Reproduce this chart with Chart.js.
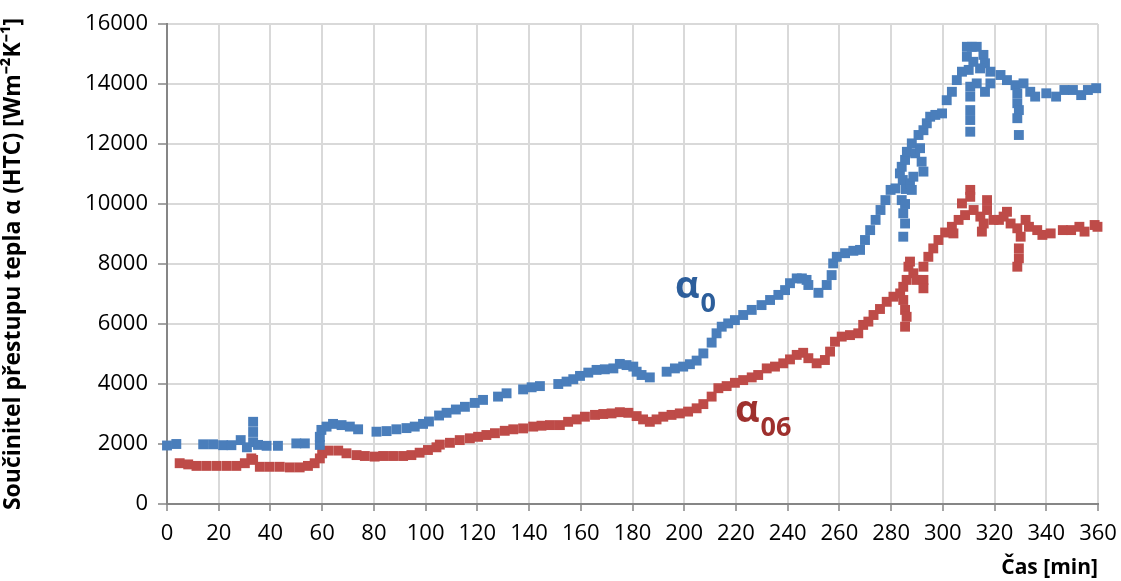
<!DOCTYPE html>
<html lang="cs">
<head>
  <meta charset="UTF-8">
  <title>Součinitel přestupu tepla</title>
  <script src="https://cdn.jsdelivr.net/npm/chart.js"></script>
  <style>
    html, body { margin: 0; padding: 0; background: #fff; }
    #wrap { width: 1121px; height: 581px; }
  </style>
</head>
<body>
  <div id="wrap"><canvas id="htcChart"></canvas></div>

  <script>
    // time [min] and HTC values
    const alpha0Time = [
      0, 3.6, 14, 17.8, 21.7, 24.9, 28.5, 30.9, 33.3, 33.3, 33.3, 35.2, 38.5, 42.9,
      50, 53.3, 59.1, 59.1, 59.7, 61.7, 64.2, 67.5, 70.7, 73.9,
      81, 84.9, 88.7, 92.6, 95.8, 99, 101.3, 105.2, 108.1, 111.7, 115.2, 119, 122.2,
      128, 131.3, 137.7, 141, 144.2, 151.3, 154.5, 157.1, 159.7, 162.9, 166.1, 169.3,
      172.6, 175.1, 177.7, 180.3, 181.6, 183.5, 186.7,
      193.2, 196.4, 199.6, 202.2, 204.8, 207.4, 210.6, 212.5, 214.5, 217, 219.6, 222.8,
      226.1, 229.9, 233.2, 236.4, 239, 240.9, 243.5, 245.5, 247.3, 248, 251.9, 255.1,
      257, 257.6, 259, 262.2, 265.4, 268, 269.9, 271.9, 274, 275.9, 277.8, 279.8, 281.7,
      284.1, 284.7, 285.4, 284.7, 285.4, 285.7, 284.5, 283.4, 284.1, 285.4, 286.1, 288,
      290.6, 292.5, 293.8, 295.1, 297.1, 299.7, 301.5, 303.5, 305.4, 307.4, 310,
      287.3, 288, 288.6, 289.3, 291.2, 291.8, 292.5,
      309.3, 309.3, 311.2, 313.1, 315.7, 316.3, 314.4, 311.8,
      318.4, 322.3, 324.8, 328.1, 331.2, 333.8, 335.7,
      310.6, 310.6, 310.6, 310.6, 310.6, 313.1, 316.3, 318.4,
      328.8, 328.8, 329.4, 328.8, 329.4,
      340, 343.8, 347, 350.3, 353.5, 356.1, 359.3
    ];
    const alpha0Value = [
      1950, 2000, 1990, 1990, 1960, 1960, 2130, 1890, 2740, 2400, 2060, 1970, 1940, 1940,
      2020, 2020, 1970, 2240, 2470, 2580, 2670, 2630, 2580, 2490,
      2410, 2430, 2490, 2530, 2580, 2670, 2750, 2950, 3040, 3150, 3240, 3370, 3470,
      3580, 3690, 3820, 3890, 3930, 4000, 4080, 4160, 4270, 4380, 4470, 4490,
      4520, 4670, 4630, 4580, 4410, 4300, 4220,
      4410, 4520, 4580, 4660, 4780, 5020, 5380, 5690, 5910, 6020, 6130, 6300,
      6470, 6630, 6800, 6970, 7130, 7360, 7520, 7520, 7470, 7300, 7040, 7300,
      7630, 8020, 8240, 8360, 8440, 8470, 8800, 9130, 9470, 9800, 10130, 10470, 10520,
      10130, 9690, 9350, 8910, 10000, 10500, 10800, 11020, 11240, 11470, 11740, 12020,
      12300, 12460, 12690, 12910, 12970, 13020, 13460, 13740, 14130, 14410, 14470,
      10690, 10470, 10910, 11690, 11860, 11410, 11080,
      14910, 15240, 15240, 15240, 14970, 14690, 14520, 14740,
      14410, 14300, 14130, 13960, 14020, 13740, 13580,
      13910, 13580, 13130, 12800, 12410, 14020, 13740, 14020,
      13690, 13360, 13130, 12860, 12300,
      13690, 13580, 13800, 13800, 13630, 13800, 13860
    ];

    const alpha06Time = [
      4.9, 8.2, 11.4, 15.2, 19.1, 23, 26.8, 30.1, 32.6, 33.3, 35.9, 39.7, 43.6, 47.5,
      51.3, 54.5, 57.1, 59.1, 60, 62.3, 66.2, 69.4, 73.3, 76.5, 80.3, 83.6, 87.4, 91.3,
      94.5, 97.7, 100.9, 104.2, 105.5, 109.4, 113.2, 117.1, 120.3, 123.5, 126.8, 130.6,
      133.9, 137.7, 141.6, 144.8, 148.1, 151.9, 155.1, 158.4, 161.6, 165.5, 168.7, 171.9,
      175.1, 178.4, 181.6, 184.1, 186.7, 189.3, 191.9, 195.1, 198.3, 201.5, 204.8, 207.4,
      210.6, 213.2, 216.4, 219.6, 222.8, 226.1, 228.6, 231.9, 235.1, 238.3, 240.9, 243.5,
      246, 248, 251.2, 254.4, 256.4, 258.3, 260.9, 264.1, 267.3, 269.2, 271.2, 273.2,
      275.7, 278.3, 280.9, 283.5, 284.7, 286, 286.7, 287.3, 284.7, 285.4, 286, 285.4,
      288.6, 289.9, 292.5, 292.5, 292.5, 294.4, 296.3, 298.3, 300.9, 303.5, 304.1, 306.1,
      307.4, 308.6, 310.6, 310.6, 311.9, 314.5, 315.1, 315.8, 317.1, 317.1, 319.6, 321.7,
      323.5, 324.8, 326.2, 328.8, 330.1, 329.4, 329.4, 328.8, 332, 333.3, 336.5, 338.5,
      341.7, 346.4, 349.6, 352.8, 354.8, 358.7, 359.8
    ];
    const alpha06Value = [
      1360, 1320, 1270, 1270, 1270, 1270, 1270, 1360, 1520, 1470, 1240, 1240, 1240, 1220,
      1220, 1270, 1360, 1520, 1690, 1780, 1780, 1690, 1630, 1600, 1580, 1600, 1600, 1600,
      1630, 1710, 1800, 1890, 1980, 2040, 2130, 2190, 2240, 2300, 2360, 2440,
      2490, 2520, 2580, 2610, 2630, 2630, 2740, 2820, 2910, 2970, 3000, 3020,
      3060, 3040, 2930, 2820, 2740, 2820, 2910, 2970, 3020, 3080, 3190, 3330,
      3580, 3860, 3930, 4040, 4130, 4220, 4300, 4520, 4580, 4690, 4820, 4970,
      5040, 4860, 4690, 4800, 5080, 5410, 5580, 5630, 5690, 5970, 6080, 6300,
      6500, 6740, 6910, 7020, 7240, 7470, 7910, 8080, 6800, 6470, 6240, 5910,
      7690, 7470, 7470, 7190, 7910, 8240, 8520, 8800, 9050, 9240, 9020, 9470,
      10020, 9630, 10470, 10240, 9800, 9580, 9080, 9350, 10130, 9800, 9470, 9470,
      9580, 9740, 9350, 9190, 8910, 8520, 8190, 7910, 9470, 9240, 9130, 8970,
      9020, 9130, 9130, 9240, 9080, 9300, 9240
    ];

    const xTicks = [0, 20, 40, 60, 80, 100, 120, 140, 160, 180, 200, 220, 240, 260, 280, 300, 320, 340, 360];
    const yTicks = [0, 2000, 4000, 6000, 8000, 10000, 12000, 14000, 16000];

    // series labels placed inside the plot
    const seriesLabels = [
      { main: 'α', sub: '0', x: 196.4, y: 6870, color: '#2C5E9B' },
      { main: 'α', sub: '06', x: 219.6, y: 2730, color: '#9E302D' }
    ];

    const toPoints = (xs, ys) => xs.map((x, i) => ({ x, y: ys[i] }));

    const labelPlugin = {
      id: 'seriesLabels',
      afterDatasetsDraw(chart) {
        const { ctx, scales: { x, y } } = chart;
        ctx.save();
        seriesLabels.forEach(l => {
          const px = x.getPixelForValue(l.x);
          const py = y.getPixelForValue(l.y);
          ctx.fillStyle = l.color;
          ctx.textBaseline = 'alphabetic';
          ctx.font = 'bold 38px "Open Sans"';
          ctx.fillText(l.main, px, py);
          const w = ctx.measureText(l.main).width;
          ctx.font = 'bold 27px "Open Sans"';
          ctx.fillText(l.sub, px + w + 1, py + 14);
        });
        ctx.restore();
      }
    };

    Chart.defaults.font.family = '"Open Sans", sans-serif';
    Chart.defaults.color = '#000';

    new Chart(document.getElementById('htcChart').getContext('2d'), {
      type: 'scatter',
      data: {
        datasets: [
          {
            label: 'α0', data: toPoints(alpha0Time, alpha0Value),
            backgroundColor: '#4A7EBB', borderWidth: 0,
            pointStyle: 'rect', pointRadius: 7, clip: false
          },
          {
            label: 'α06', data: toPoints(alpha06Time, alpha06Value),
            backgroundColor: '#BE4B48', borderWidth: 0,
            pointStyle: 'rect', pointRadius: 7, clip: false
          }
        ]
      },
      options: {
        responsive: true,
        maintainAspectRatio: false,
        animation: false,
        layout: { padding: { top: 24, right: 0, left: 0, bottom: 0 } },
        plugins: {
          legend: { display: false },
          tooltip: { enabled: false }
        },
        scales: {
          x: {
            type: 'linear', min: 0, max: 360,
            afterBuildTicks: s => { s.ticks = xTicks.map(v => ({ value: v })); },
            afterFit: s => { s.height = 77; s.paddingRight = 23; },
            ticks: { font: { size: 22 }, padding: 10, maxRotation: 0, autoSkip: false, callback: v => String(v) },
            grid: { color: '#D9D9D9', lineWidth: 2, tickColor: '#868686', tickLength: 7, tickWidth: 1.5 },
            border: { color: '#868686', width: 2 },
            title: {
              display: true, text: 'Čas [min]', align: 'end',
              font: { size: 21, weight: 'bold' }, padding: { top: 0, bottom: 0 }
            }
          },
          y: {
            type: 'linear', min: 0, max: 16000,
            afterBuildTicks: s => { s.ticks = yTicks.map(v => ({ value: v })); },
            afterFit: s => { s.width = 167; },
            ticks: { font: { size: 22 }, padding: 10, callback: v => String(v) },
            grid: { color: '#D9D9D9', lineWidth: 2, tickColor: '#868686', tickLength: 9, tickWidth: 1.5 },
            border: { color: '#868686', width: 2 },
            title: {
              display: true, text: 'Součinitel přestupu tepla α (HTC) [Wm⁻²K⁻¹]',
              font: { size: 23, weight: 'bold' }, padding: { top: 0, bottom: 0 }
            }
          }
        }
      },
      plugins: [labelPlugin]
    });
  </script>
</body>
</html>
